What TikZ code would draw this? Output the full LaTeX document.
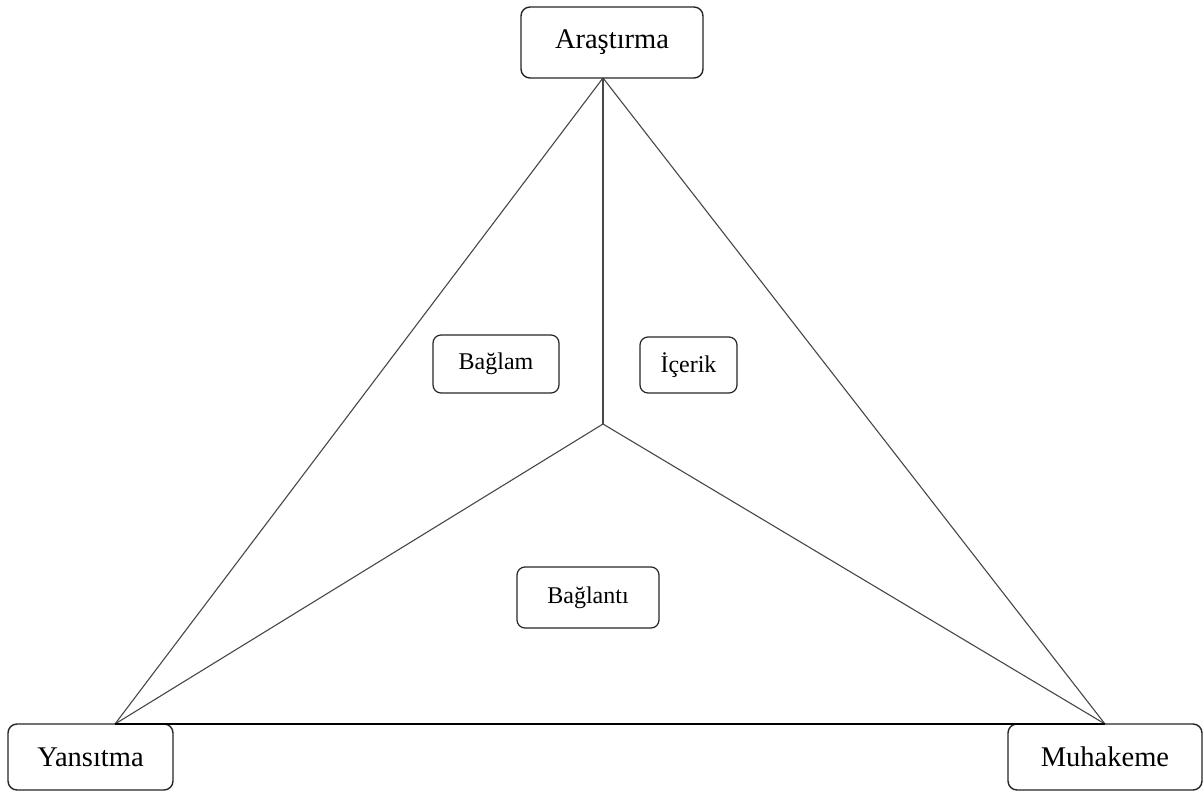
\documentclass[tikz,border=0pt]{standalone}
\usepackage{fontspec}
\setmainfont{Liberation Serif}
\begin{document}
\begin{tikzpicture}[x=1pt,y=-1pt,
  edge/.style={draw=black!72, line width=1.1pt},
  base/.style={draw=black, line width=1.4pt},
  box/.style={draw=black!85, line width=1.4pt, rounded corners=9pt, fill=white,
    inner sep=0pt, align=center},
  bigbox/.style={box, font=\fontsize{28.5}{32}\selectfont},
  smallbox/.style={box, line width=1.2pt, rounded corners=8pt, font=\fontsize{24}{28}\selectfont}]
\useasboundingbox (0,0) rectangle (1203,791);

% corners of the outer triangle and its inner meeting point
\coordinate (apex) at (603,78);
\coordinate (lv) at (115,724);
\coordinate (rv) at (1105,724);
\coordinate (mid) at (603,424);

% triangle sides and the three spokes
\draw[edge] (apex) -- (lv);
\draw[edge] (apex) -- (rv);
\draw[edge] (apex) -- (mid);
\draw[edge] (mid) -- (lv);
\draw[edge] (mid) -- (rv);

% labelled boxes
\node[bigbox, minimum width=182pt, minimum height=71pt] (arastirma) at (612,42.5) {Araştırma};
\node[bigbox, minimum width=165pt, minimum height=66pt] (yansitma) at (90.5,757) {Yansıtma};
\node[bigbox, minimum width=194pt, minimum height=66pt] (muhakeme) at (1105,757) {Muhakeme};
\node[smallbox, minimum width=126pt, minimum height=58pt] (baglam) at (496,364) {Bağlam};
\node[smallbox, minimum width=97pt, minimum height=56pt] (icerik) at (688.5,365) {İçerik};
\node[smallbox, minimum width=142pt, minimum height=61pt] (baglanti) at (588,597.5) {Bağlantı};

% base of the triangle, running along the tops of the corner boxes
\draw[base] (lv) -- (rv);
\end{tikzpicture}
\end{document}
